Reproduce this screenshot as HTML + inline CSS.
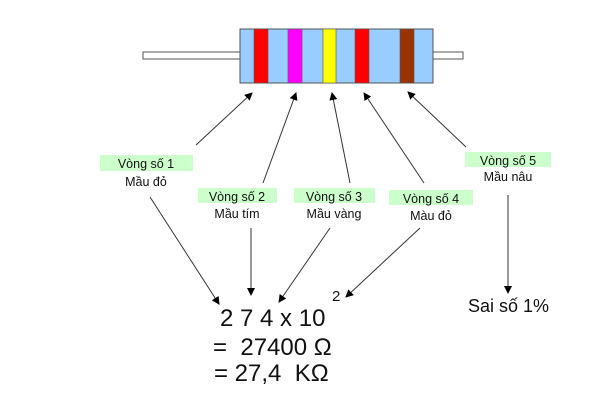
<!DOCTYPE html>
<html><head><meta charset="utf-8"><style>
html,body{margin:0;padding:0;background:#fff;}
svg{display:block;font-family:"Liberation Sans",Arial,sans-serif;}
text{white-space:pre;}
</style></head><body>
<svg width="600" height="400" viewBox="0 0 600 400">
<defs><marker id="a" markerWidth="8" markerHeight="8" refX="7" refY="4" orient="auto" markerUnits="userSpaceOnUse"><path d="M0,0 L8,4 L0,8 z" fill="#000"/></marker></defs>
<rect x="143" y="52" width="97" height="7" fill="#fff" stroke="#555" stroke-width="1"/>
<rect x="433" y="52" width="30" height="7" fill="#fff" stroke="#555" stroke-width="1"/>
<rect x="240" y="29" width="193" height="54" fill="#99ccff" stroke="#555" stroke-width="1"/>
<rect x="254" y="29" width="14" height="54" fill="#ff0000" stroke="#555" stroke-width="0.6"/>
<rect x="288" y="29" width="14" height="54" fill="#ff00ff" stroke="#555" stroke-width="0.6"/>
<rect x="323" y="29" width="13" height="54" fill="#ffff00" stroke="#555" stroke-width="0.6"/>
<rect x="355" y="29" width="14" height="54" fill="#ff0000" stroke="#555" stroke-width="0.6"/>
<rect x="400" y="29" width="14" height="54" fill="#993300" stroke="#555" stroke-width="0.6"/>
<g stroke="#333" stroke-width="1" marker-end="url(#a)">
<line x1="196" y1="145" x2="252" y2="93"/>
<line x1="263" y1="183" x2="296" y2="93"/>
<line x1="350" y1="183" x2="332" y2="93"/>
<line x1="424" y1="183" x2="364" y2="93"/>
<line x1="466" y1="147" x2="408" y2="92"/>
<line x1="150" y1="197" x2="219" y2="304"/>
<line x1="251" y1="228" x2="251" y2="295"/>
<line x1="330" y1="228" x2="279" y2="302"/>
<line x1="420" y1="228" x2="346" y2="297"/>
<line x1="508" y1="195" x2="508" y2="293"/>
</g>
<g fill="#ccffcc">
<rect x="100" y="155" width="93" height="16"/>
<rect x="198" y="188" width="79" height="15"/>
<rect x="294" y="188" width="81" height="15"/>
<rect x="389" y="190" width="84" height="15"/>
<rect x="465" y="152" width="86" height="15"/>
</g>
<g font-size="12.5" fill="#111" text-anchor="middle">
<text x="146" y="168">Vòng số 1</text><text x="146" y="186">Mầu đỏ</text>
<text x="237" y="201">Vòng số 2</text><text x="237" y="218">Mầu tím</text>
<text x="334" y="201">Vòng số 3</text><text x="334" y="218">Mầu vàng</text>
<text x="431" y="203">Vòng số 4</text><text x="431" y="220">Màu đỏ</text>
<text x="508" y="165">Vòng số 5</text><text x="508" y="181">Mầu nâu</text>
</g>
<g fill="#111">
<text x="220" y="326" font-size="24">2 7 4 x 10</text>
<text x="332" y="301" font-size="15">2</text>
<text x="213" y="355" font-size="24">=  27400 Ω</text>
<text x="214" y="381" font-size="24">= 27,4  KΩ</text>
<text x="468" y="312" font-size="18">Sai số 1%</text>
</g>
</svg>
</body></html>
